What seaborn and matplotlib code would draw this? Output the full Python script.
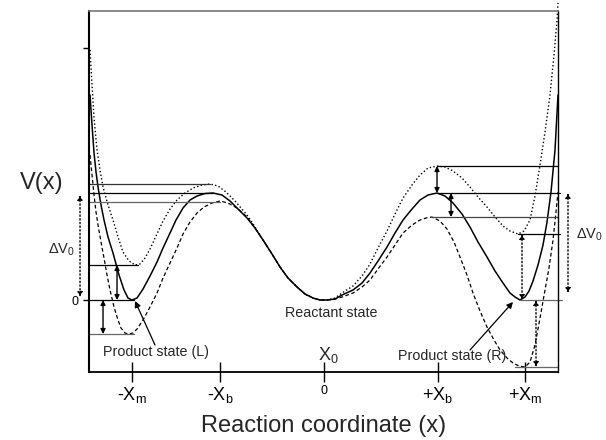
import matplotlib
matplotlib.use('Agg')
import matplotlib.pyplot as plt
import seaborn as sns

# potential curves (x0 = 0, bottom of the wells = 0)
# part shared by all three curves around the reactant state
mid_x = [-0.61, -0.52, -0.44, -0.36, -0.27, -0.19, -0.11, -0.04, 0.03]
mid_y = [0.60, 0.46, 0.33, 0.22, 0.13, 0.06, 0.02, 0.00, 0.00]

# solid curve
sl_x = [-2.34, -2.32, -2.30, -2.28, -2.26, -2.23, -2.20, -2.16, -2.11, -2.05,
        -2.00, -1.96, -1.92, -1.87, -1.81, -1.74, -1.67, -1.61, -1.54, -1.48,
        -1.41, -1.34, -1.27, -1.19, -1.11, -1.02, -0.94, -0.86, -0.77, -0.69]
sl_y = [2.05, 1.75, 1.47, 1.28, 1.13, 0.95, 0.80, 0.63, 0.47, 0.25,
        0.10, 0.02, 0.00, 0.02, 0.11, 0.24, 0.38, 0.52, 0.67, 0.80,
        0.92, 1.00, 1.04, 1.065, 1.07, 1.05, 0.99, 0.91, 0.82, 0.72]
sr_x = [0.11, 0.18, 0.29, 0.38, 0.46, 0.54, 0.63, 0.71, 0.79, 0.88,
        0.96, 1.04, 1.13, 1.21, 1.29, 1.38, 1.46, 1.54, 1.63, 1.71,
        1.79, 1.86, 1.91, 1.96, 2.01, 2.05, 2.09, 2.14, 2.19, 2.23,
        2.27, 2.31, 2.34]
sr_y = [0.01, 0.05, 0.10, 0.17, 0.27, 0.39, 0.53, 0.67, 0.80, 0.91,
        1.00, 1.05, 1.07, 1.04, 0.97, 0.86, 0.73, 0.58, 0.43, 0.29,
        0.17, 0.07, 0.03, 0.00, 0.03, 0.09, 0.19, 0.35, 0.55, 0.78,
        1.08, 1.50, 2.05]

# dotted curve
dl_x = [-2.34, -2.32, -2.30, -2.27, -2.24, -2.21, -2.16, -2.11, -2.06, -2.01,
        -1.95, -1.89, -1.84, -1.79, -1.74, -1.68, -1.61, -1.54, -1.47, -1.39,
        -1.31, -1.22, -1.14, -1.06, -0.98, -0.89, -0.77, -0.69]
dl_y = [2.50, 2.15, 1.82, 1.50, 1.30, 1.13, 0.95, 0.80, 0.63, 0.48,
        0.39, 0.35, 0.36, 0.42, 0.51, 0.64, 0.79, 0.91, 1.00, 1.07,
        1.12, 1.15, 1.16, 1.14, 1.08, 0.99, 0.85, 0.73]
dr_x = [0.11, 0.18, 0.29, 0.38, 0.46, 0.54, 0.63, 0.71, 0.79, 0.88,
        0.96, 1.04, 1.13, 1.21, 1.29, 1.38, 1.46, 1.54, 1.63, 1.71,
        1.79, 1.86, 1.94, 2.00, 2.06, 2.11, 2.16, 2.21, 2.26, 2.30,
        2.33, 2.34]
dr_y = [0.02, 0.07, 0.14, 0.24, 0.36, 0.52, 0.69, 0.86, 1.02, 1.15,
        1.25, 1.32, 1.34, 1.33, 1.29, 1.22, 1.13, 1.03, 0.93, 0.83,
        0.74, 0.69, 0.66, 0.69, 0.80, 1.04, 1.35, 1.68, 2.05, 2.45,
        2.80, 2.97]

# dashed curve
al_x = [-2.34, -2.32, -2.30, -2.28, -2.26, -2.23, -2.20, -2.17, -2.14, -2.10,
        -2.06, -2.03, -1.99, -1.95, -1.91, -1.87, -1.81, -1.74, -1.67, -1.61,
        -1.54, -1.47, -1.41, -1.34, -1.27, -1.20, -1.12, -1.04, -0.96, -0.87,
        -0.77, -0.69]
al_y = [1.45, 1.25, 1.05, 0.88, 0.75, 0.58, 0.42, 0.25, 0.10, -0.07,
        -0.20, -0.28, -0.33, -0.34, -0.33, -0.29, -0.20, -0.07, 0.07, 0.22,
        0.37, 0.52, 0.66, 0.78, 0.87, 0.93, 0.97, 0.99, 0.97, 0.92,
        0.83, 0.72]
ar_x = [0.11, 0.18, 0.29, 0.38, 0.46, 0.54, 0.63, 0.71, 0.79, 0.88,
        0.96, 1.02, 1.08, 1.16, 1.23, 1.30, 1.36, 1.43, 1.49, 1.56,
        1.63, 1.70, 1.76, 1.83, 1.89, 1.95, 2.01, 2.06, 2.11, 2.16,
        2.21, 2.25, 2.29, 2.32, 2.34]
ar_y = [0.01, 0.03, 0.07, 0.13, 0.20, 0.31, 0.43, 0.55, 0.67, 0.75,
        0.80, 0.82, 0.83, 0.79, 0.71, 0.58, 0.43, 0.25, 0.07, -0.11,
        -0.27, -0.40, -0.50, -0.58, -0.63, -0.66, -0.67, -0.62, -0.45, -0.18,
        0.10, 0.32, 0.60, 0.88, 1.08]

# barrier / well levels
left_levels = [1.16, 1.07, 0.98, 0.35, 0.00, -0.34]
left_ends = [-1.14, -1.11, -1.04, -1.86, -1.90, -1.90]
right_levels = [1.34, 1.07, 0.83, 0.66, 0.00, -0.67]
right_starts = [1.13, 1.13, 1.08, 1.94, 1.96, 1.91]
right_ends = [2.34, 2.36, 2.34, 2.36, 2.38, 2.34]

# double arrows between levels: x, from, to
solid_arrows = [(-2.07, 0.35, 0.00), (-2.21, 0.00, -0.34),
                (1.13, 1.34, 1.07), (1.27, 1.07, 0.83)]
dotted_arrows = [(1.98, 0.66, 0.00), (2.12, 0.00, -0.67),
                 (-2.44, 1.05, 0.03), (2.44, 1.07, 0.07)]

tick_pos = [-1.92, -1.04, 0, 1.14, 2.01]
tick_lab = ['-X$_\\mathregular{m}$', '-X$_\\mathregular{b}$', '0',
            '+X$_\\mathregular{b}$', '+X$_\\mathregular{m}$']

sns.set_style('ticks')
plt.rcParams['font.family'] = ['Liberation Sans', 'DejaVu Sans']

fig = plt.figure(figsize=(6.06, 4.4), dpi=100)
ax = fig.add_axes([0.1469, 0.1545, 0.7739, 0.8205])

sns.lineplot(x=sl_x + mid_x + sr_x, y=sl_y + mid_y + sr_y, ax=ax, color='k',
             lw=1.1, sort=False, estimator=None)
sns.lineplot(x=dl_x + mid_x + dr_x, y=dl_y + mid_y + dr_y, ax=ax, color='k',
             lw=1.0, ls=':', sort=False, estimator=None).lines[-1].set_clip_on(False)
l = sns.lineplot(x=al_x + mid_x + ar_x, y=al_y + mid_y + ar_y, ax=ax, color='k',
                 lw=0.9, sort=False, estimator=None).lines[-1]
l.set_dashes((3, 2))

lcol = ['#333333', 'k', '#666666', 'k', 'k', '#666666']
for lev, end, c in zip(left_levels, left_ends, lcol):
    ax.plot([-2.35, end], [lev, lev], color=c, lw=0.9, clip_on=False)
rcol = ['k', 'k', '#444444', 'k', '#666666', '#666666']
for lev, st, end, c in zip(right_levels, right_starts, right_ends, rcol):
    ax.plot([st, end], [lev, lev], color=c, lw=0.9, clip_on=False)

for x, y0, y1 in solid_arrows:
    ax.annotate('', xy=(x, y1), xytext=(x, y0), annotation_clip=False,
                arrowprops=dict(arrowstyle='<|-|>', color='k', lw=1,
                                mutation_scale=7, shrinkA=0, shrinkB=0))
for x, y0, y1 in dotted_arrows:
    ax.annotate('', xy=(x, y1), xytext=(x, y0), annotation_clip=False,
                arrowprops=dict(arrowstyle='<|-|>', color='k', lw=1, ls=':',
                                mutation_scale=7, shrinkA=0, shrinkB=0))

# state labels
ax.annotate('', xy=(-1.89, -0.01), xytext=(-1.69, -0.45),
            arrowprops=dict(arrowstyle='-|>', color='k', lw=0.9,
                            mutation_scale=9, shrinkA=0, shrinkB=0))
ax.annotate('', xy=(1.89, -0.02), xytext=(1.46, -0.50),
            arrowprops=dict(arrowstyle='-|>', color='k', lw=0.9,
                            mutation_scale=9, shrinkA=0, shrinkB=0))
ax.text(-1.68, -0.52, 'Product state (L)', fontsize=10.3, ha='center', va='center')
ax.text(1.28, -0.56, 'Product state (R)', fontsize=10.3, ha='center', va='center')
ax.text(0.07, -0.13, 'Reactant state', fontsize=10.3, ha='center', va='center')
ax.text(0.04, -0.55, 'X$_\\mathregular{0}$', fontsize=13, ha='center', va='center')
ax.text(-2.63, 0.50, 'ΔV$_\\mathregular{0}$', fontsize=10.5, ha='center', va='center')
ax.text(2.66, 0.65, 'ΔV$_\\mathregular{0}$', fontsize=10.5, ha='center', va='center')

ax.set_xlim(-2.35, 2.34)
ax.set_ylim(-0.72, 2.89)
ax.set_xticks(tick_pos)
ax.set_xticklabels(tick_lab)
ax.set_yticks([0, 2.52])
ax.set_yticklabels(['0', ''])
ax.tick_params(axis='x', direction='inout', length=15, width=1, pad=2,
               labelsize=13, colors='k')
ax.tick_params(axis='y', direction='out', length=4.5, width=1, pad=3,
               labelsize=9, colors='k')
ax.get_xticklabels()[2].set_fontsize(9)

ax.set_xlabel('Reaction coordinate (x)', fontsize=17, va='center')
ax.xaxis.set_label_coords(0.5, -0.15)
ax.set_ylabel('V(x)', fontsize=17, rotation=0, va='center', ha='center')
ax.yaxis.set_label_coords(-0.10, 0.524)

for side, lw, c in [('left', 1.5, 'k'), ('bottom', 1.3, 'k'),
                    ('right', 1.0, 'k'), ('top', 1.2, '#777777')]:
    ax.spines[side].set_linewidth(lw)
    ax.spines[side].set_color(c)

fig.savefig('out.png', dpi=100)
